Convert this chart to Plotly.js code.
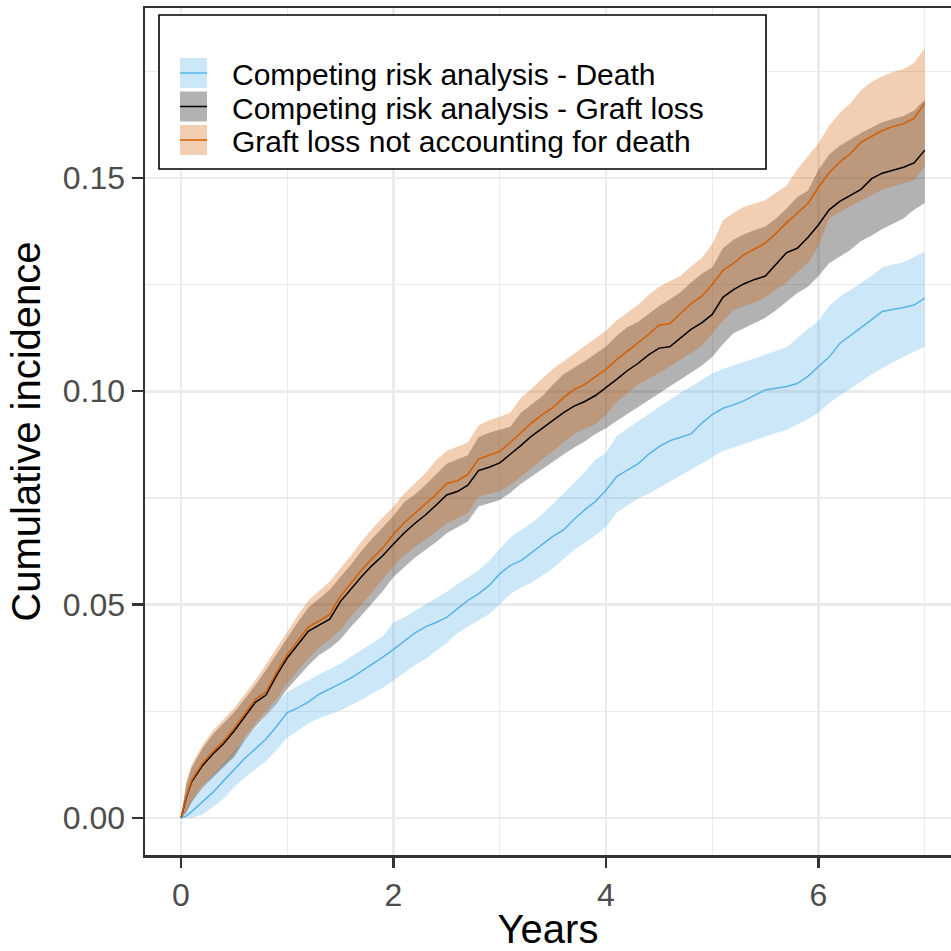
<!DOCTYPE html>
<html><head><meta charset="utf-8">
<script src="https://cdn.plot.ly/plotly-3.0.1.min.js"></script>
<style>html,body{margin:0;padding:0;background:#fff}#chart{width:951px;height:951px}</style>
</head><body><div id="chart"></div>
<script>
// ---- data ----
const years = [0, 0.05,
  0.1,0.2,0.3,0.4,0.5,0.6,0.7,0.8,0.9,1.0,
  1.1,1.2,1.3,1.4,1.5,1.6,1.7,1.8,1.9,2.0,
  2.1,2.2,2.3,2.4,2.5,2.6,2.7,2.8,2.9,3.0,
  3.1,3.2,3.3,3.4,3.5,3.6,3.7,3.8,3.9,4.0,
  4.1,4.2,4.3,4.4,4.5,4.6,4.7,4.8,4.9,5.0,
  5.1,5.2,5.3,5.4,5.5,5.6,5.7,5.8,5.9,6.0,
  6.1,6.2,6.3,6.4,6.5,6.6,6.7,6.8,6.9,7.0];

const seriesNames = ["Competing risk analysis - Death",
                     "Competing risk analysis - Graft loss",
                     "Graft loss not accounting for death"];

// Competing risk analysis - Death
const deathEst = [0, 0.0005,
  0.0015,0.0038,0.0060,0.0087,0.0113,0.0140,0.0162,0.0185,0.0215,0.0247,
  0.0258,0.0272,0.0290,0.0302,0.0315,0.0328,0.0344,0.0360,0.0377,0.0395,
  0.0415,0.0433,0.0448,0.0458,0.0470,0.0490,0.0510,0.0525,0.0545,0.0572,
  0.0592,0.0603,0.0622,0.0642,0.0660,0.0675,0.0700,0.0722,0.0742,0.0768,
  0.0800,0.0815,0.0830,0.0852,0.0870,0.0884,0.0892,0.0900,0.0925,0.0945,
  0.0960,0.0968,0.0978,0.0990,0.1003,0.1007,0.1011,0.1018,0.1035,0.1058,
  0.1080,0.1112,0.1130,0.1150,0.1168,0.1187,0.1191,0.1196,0.1202,0.1218];
const deathLo = [0, 0,
  0,0.0008,0.0025,0.0045,0.0072,0.0095,0.0115,0.0133,0.0160,0.0188,
  0.0205,0.0222,0.0234,0.0243,0.0252,0.0265,0.0277,0.0292,0.0305,0.0322,
  0.0340,0.0358,0.0372,0.0390,0.0410,0.0433,0.0448,0.0462,0.0478,0.0500,
  0.0525,0.0540,0.0552,0.0568,0.0585,0.0607,0.0628,0.0645,0.0662,0.0682,
  0.0715,0.0732,0.0748,0.0760,0.0775,0.0788,0.0802,0.0817,0.0832,0.0845,
  0.0860,0.0868,0.0876,0.0885,0.0894,0.0902,0.0910,0.0922,0.0935,0.0950,
  0.0972,0.0990,0.1005,0.1022,0.1040,0.1055,0.1068,0.1080,0.1092,0.1104];
const deathHi = [0, 0.0020,
  0.0042,0.0072,0.0100,0.0128,0.0158,0.0185,0.0210,0.0240,0.0270,0.0295,
  0.0310,0.0323,0.0336,0.0349,0.0362,0.0378,0.0394,0.0410,0.0426,0.0458,
  0.0470,0.0485,0.0500,0.0515,0.0530,0.0548,0.0563,0.0580,0.0603,0.0630,
  0.0658,0.0675,0.0692,0.0712,0.0735,0.0760,0.0785,0.0810,0.0840,0.0855,
  0.0895,0.0912,0.0930,0.0948,0.0964,0.0980,0.0996,0.1012,0.1028,0.1042,
  0.1052,0.1060,0.1068,0.1077,0.1086,0.1095,0.1103,0.1125,0.1145,0.1165,
  0.1200,0.1222,0.1237,0.1253,0.1270,0.1290,0.1297,0.1302,0.1315,0.1327];

// Competing risk analysis - Graft loss
const graftEst = [0, 0.0048,
  0.0085,0.0122,0.0150,0.0174,0.0204,0.0238,0.0271,0.0288,0.0334,0.0375,
  0.0406,0.0438,0.0452,0.0466,0.0507,0.0536,0.0566,0.0592,0.0615,0.0642,
  0.0668,0.0690,0.0710,0.0733,0.0757,0.0765,0.0780,0.0814,0.0822,0.0832,
  0.0852,0.0873,0.0895,0.0913,0.0931,0.0950,0.0965,0.0976,0.0990,0.1008,
  0.1028,0.1048,0.1065,0.1085,0.1101,0.1104,0.1125,0.1145,0.1160,0.1180,
  0.1220,0.1238,0.1252,0.1262,0.1270,0.1297,0.1325,0.1335,0.1360,0.1390,
  0.1425,0.1445,0.1460,0.1473,0.1498,0.1511,0.1518,0.1525,0.1535,0.1565];
const graftLo = [0, 0.0013,
  0.0037,0.0071,0.0095,0.0119,0.0143,0.0182,0.0213,0.0240,0.0268,0.0302,
  0.0330,0.0358,0.0382,0.0398,0.0418,0.0448,0.0475,0.0503,0.0532,0.0565,
  0.0588,0.0610,0.0628,0.0646,0.0667,0.0680,0.0695,0.0730,0.0738,0.0745,
  0.0762,0.0783,0.0800,0.0818,0.0836,0.0852,0.0868,0.0882,0.0900,0.0913,
  0.0930,0.0946,0.0962,0.0978,0.0995,0.1010,0.1026,0.1043,0.1060,0.1080,
  0.1110,0.1136,0.1148,0.1160,0.1172,0.1190,0.1210,0.1230,0.1245,0.1270,
  0.1300,0.1315,0.1331,0.1352,0.1365,0.1380,0.1392,0.1405,0.1425,0.1441];
const graftHi = [0, 0.0080,
  0.0118,0.0162,0.0196,0.0222,0.0248,0.0279,0.0311,0.0347,0.0384,0.0423,
  0.0459,0.0493,0.0515,0.0535,0.0565,0.0594,0.0626,0.0655,0.0681,0.0708,
  0.0740,0.0758,0.0780,0.0805,0.0830,0.0840,0.0850,0.0893,0.0903,0.0910,
  0.0917,0.0950,0.0968,0.0988,0.1015,0.1040,0.1055,0.1070,0.1088,0.1105,
  0.1130,0.1150,0.1162,0.1180,0.1200,0.1215,0.1232,0.1255,0.1275,0.1290,
  0.1335,0.1355,0.1368,0.1378,0.1386,0.1405,0.1428,0.1455,0.1470,0.1519,
  0.1555,0.1575,0.1590,0.1605,0.1618,0.1630,0.1638,0.1645,0.1658,0.1683];

// Graft loss not accounting for death
const naiveEst = [0, 0.0050,
  0.0088,0.0127,0.0155,0.0180,0.0210,0.0245,0.0278,0.0295,0.0342,0.0383,
  0.0415,0.0448,0.0462,0.0477,0.0520,0.0550,0.0581,0.0608,0.0633,0.0665,
  0.0692,0.0714,0.0737,0.0758,0.0784,0.0790,0.0805,0.0841,0.0850,0.0859,
  0.0880,0.0903,0.0926,0.0945,0.0962,0.0985,0.1004,0.1016,0.1033,0.1052,
  0.1074,0.1093,0.1112,0.1133,0.1155,0.1158,0.1182,0.1205,0.1222,0.1250,
  0.1283,0.1300,0.1320,0.1333,0.1347,0.1370,0.1395,0.1417,0.1440,0.1478,
  0.1512,0.1537,0.1557,0.1583,0.1598,0.1611,0.1620,0.1627,0.1640,0.1675];
const naiveLo = [0, 0.0015,
  0.0040,0.0075,0.0100,0.0125,0.0150,0.0190,0.0222,0.0250,0.0280,0.0315,
  0.0345,0.0375,0.0400,0.0418,0.0440,0.0472,0.0500,0.0530,0.0560,0.0590,
  0.0615,0.0635,0.0652,0.0670,0.0690,0.0702,0.0715,0.0753,0.0760,0.0766,
  0.0780,0.0800,0.0820,0.0842,0.0862,0.0882,0.0900,0.0912,0.0922,0.0945,
  0.0975,0.0995,0.1015,0.1030,0.1042,0.1058,0.1074,0.1090,0.1106,0.1135,
  0.1165,0.1190,0.1200,0.1208,0.1220,0.1238,0.1255,0.1280,0.1300,0.1340,
  0.1405,0.1420,0.1433,0.1447,0.1460,0.1473,0.1480,0.1488,0.1495,0.1527];
const naiveHi = [0, 0.0085,
  0.0125,0.0170,0.0205,0.0232,0.0258,0.0290,0.0323,0.0360,0.0398,0.0438,
  0.0475,0.0510,0.0533,0.0554,0.0585,0.0615,0.0648,0.0678,0.0705,0.0730,
  0.0760,0.0785,0.0808,0.0838,0.0860,0.0870,0.0880,0.0920,0.0932,0.0940,
  0.0950,0.0985,0.1005,0.1030,0.1052,0.1070,0.1088,0.1105,0.1125,0.1142,
  0.1166,0.1183,0.1202,0.1225,0.1245,0.1258,0.1270,0.1292,0.1312,0.1345,
  0.1400,0.1418,0.1432,0.1440,0.1448,0.1465,0.1482,0.1520,0.1550,0.1581,
  0.1622,0.1652,0.1675,0.1705,0.1725,0.1738,0.1748,0.1755,0.1770,0.1803];

const xTickVals = [0, 2, 4, 6];
const xTickText = ["0", "2", "4", "6"];
const xMinorVals = [1, 3, 5, 7];
const yTickVals = [0, 0.05, 0.10, 0.15];
const yTickText = ["0.00", "0.05", "0.10", "0.15"];
const yMinorVals = [0.025, 0.075, 0.125, 0.175];

// ---- styles ----
const lineColors = ["#56B4E9", "#000000", "#D55E00"];
const fillColors = ["rgba(86,180,233,0.3)", "rgba(0,0,0,0.3)", "rgba(213,94,0,0.3)"];
const est = [deathEst, graftEst, naiveEst];
const lo = [deathLo, graftLo, naiveLo];
const hi = [deathHi, graftHi, naiveHi];

const traces = [];
for (let i = 0; i < 3; i++) {
  traces.push({x: years, y: lo[i], type: "scatter", mode: "lines",
    line: {width: 0, shape: "linear", color: fillColors[i]}, showlegend: false, hoverinfo: "skip"});
  traces.push({x: years, y: hi[i], type: "scatter", mode: "lines", fill: "tonexty",
    fillcolor: fillColors[i], line: {width: 0, shape: "linear", color: fillColors[i]},
    showlegend: false, hoverinfo: "skip"});
}
for (let i = 0; i < 3; i++) {
  traces.push({x: years, y: est[i], type: "scatter", mode: "lines", name: seriesNames[i],
    line: {width: 1.5, shape: "linear", color: lineColors[i]}, showlegend: false});
}

const W = 951, H = 951, ML = 145, MR = 0, MT = 8, MB = 96;
const px = p => (p - ML) / (W - ML - MR);
const py = p => (H - MB - p) / (H - MT - MB);

// manual ggplot-style legend
const shapes = [{type: "rect", xref: "paper", yref: "paper", layer: "above",
  x0: px(159), x1: px(766), y0: py(15), y1: py(169),
  fillcolor: "#ffffff", line: {color: "#000000", width: 1.6}}];
const annotations = [];
const rowMid = [73, 106.5, 140];
for (let i = 0; i < 3; i++) {
  const m = rowMid[i], t = m - 15, b = m + 15;
  shapes.push({type: "rect", xref: "paper", yref: "paper", layer: "above",
    x0: px(180), x1: px(207), y0: py(t), y1: py(b), fillcolor: fillColors[i], line: {width: 0}});
  shapes.push({type: "line", xref: "paper", yref: "paper", layer: "above",
    x0: px(180), x1: px(207), y0: py(m), y1: py(m),
    line: {color: lineColors[i], width: 1.5}});
  annotations.push({xref: "paper", yref: "paper", x: px(231), y: py(m + 1.5),
    xanchor: "left", yanchor: "middle", showarrow: false, text: seriesNames[i], borderpad: 0,
    font: {family: "Liberation Sans, Arial, sans-serif", size: 30, color: "#000000"}});
}

const layout = {
  width: W, height: H,
  margin: {l: ML, r: MR, t: MT, b: MB, pad: 0},
  paper_bgcolor: "#ffffff", plot_bgcolor: "#ffffff",
  font: {family: "Liberation Sans, Arial, sans-serif", color: "#4D4D4D"},
  showlegend: false,
  xaxis: {
    range: [-0.3388, 7.247], autorange: false,
    tickmode: "array", tickvals: xTickVals, ticktext: xTickText,
    tickfont: {size: 32, color: "#4D4D4D"},
    ticks: "outside", ticklen: 10, tickwidth: 2.5, tickcolor: "#333333",
    showline: true, mirror: true, linecolor: "#333333", linewidth: 2.5,
    showgrid: true, gridcolor: "#EBEBEB", gridwidth: 2.6, zeroline: false,
    minor: {tickmode: "array", tickvals: xMinorVals, showgrid: true, gridcolor: "#EBEBEB", gridwidth: 1.3, ticks: ""},
    title: {text: "Years", font: {size: 40, color: "#000000"}, standoff: 14},
    automargin: false
  },
  yaxis: {
    range: [-0.00867, 0.1898], autorange: false,
    tickmode: "array", tickvals: yTickVals, ticktext: yTickText,
    tickfont: {size: 32, color: "#4D4D4D"},
    ticks: "outside", ticklen: 11, tickwidth: 2.5, tickcolor: "#333333",
    showline: true, mirror: false, linecolor: "#333333", linewidth: 2.5,
    showgrid: true, gridcolor: "#EBEBEB", gridwidth: 2.6, zeroline: false,
    minor: {tickmode: "array", tickvals: yMinorVals, showgrid: true, gridcolor: "#EBEBEB", gridwidth: 1.3, ticks: ""},
    title: {text: "Cumulative incidence", font: {size: 40, color: "#000000"}, standoff: 10},
    automargin: false
  },
  shapes: shapes,
  annotations: annotations
};

Plotly.newPlot("chart", traces, layout, {displayModeBar: false, staticPlot: true});
</script>
</body></html>
